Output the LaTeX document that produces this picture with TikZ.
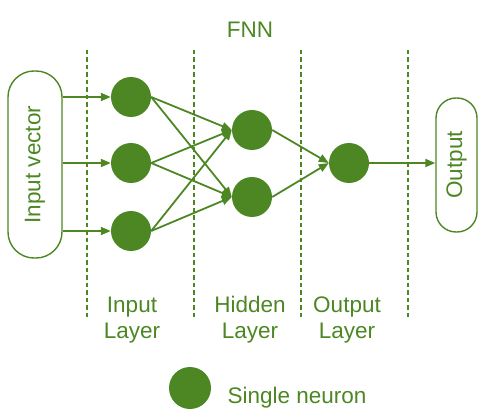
\documentclass[tikz,border=0pt]{standalone}
\usepackage{fontspec}
\setmainfont{Liberation Sans}
\usetikzlibrary{arrows.meta, positioning}
\definecolor{leaf}{RGB}{76,135,36}

\begin{document}
\begin{tikzpicture}[x=1pt, y=1pt, >={Triangle[length=10pt,width=8pt]},
        neuron/.style={circle, fill=leaf, minimum size=40pt, inner sep=0pt},
        label text/.style={text=leaf, align=center, font=\fontsize{22.5}{26}\selectfont},
        pill/.style={draw=leaf, line width=1.4pt, text=leaf, font=\fontsize{22.5}{26}\selectfont},
        link/.style={->, draw=leaf, line width=1.8pt}]
        \useasboundingbox (0,0) rectangle (502,418);
        \foreach \x in {87,194,301,408}
            \draw[leaf, line width=1.3pt, dash pattern=on 4.5pt off 3pt] (\x,368) -- (\x,101);
        \node[label text] (fnn) at (250,388) {FNN};
        \node[pill, rounded corners=26pt, rotate=90, minimum width=187pt, minimum height=54pt] (ivec) at (35,253.5) {Input vector};
        \node[pill, rounded corners=20pt, rotate=90, minimum width=134pt, minimum height=41pt] (obox) at (456.5,253) {Output};
        \node[neuron] (in1) at (131,321) {};
        \node[neuron] (in2) at (131,255) {};
        \node[neuron] (in3) at (131,187) {};
        \node[neuron] (hid1) at (252,288) {};
        \node[neuron] (hid2) at (252,221) {};
        \node[neuron] (onode) at (349,255) {};
        \foreach \i in {1,2,3} {
            \draw[link] (ivec.south |- in\i) -- (in\i.west);
            \foreach \j in {1,2}
                \draw[link] (in\i.east) -- (hid\j.west);
        }
        \foreach \j in {1,2}
            \draw[link] (hid\j.east) -- (onode.west);
        \draw[link] (onode.east) -- (onode -| obox.north);
        \node[label text] (linput) at (132,98) {Input\\Layer};
        \node[label text] (lhidden) at (250,98) {Hidden\\Layer};
        \node[label text] (loutput) at (347,98) {Output\\Layer};
        \node[neuron, minimum size=42pt] (key) at (190,30) {};
        \node[label text, anchor=west] (keytext) at (224,20) {Single neuron};
    \end{tikzpicture}
\end{document}
